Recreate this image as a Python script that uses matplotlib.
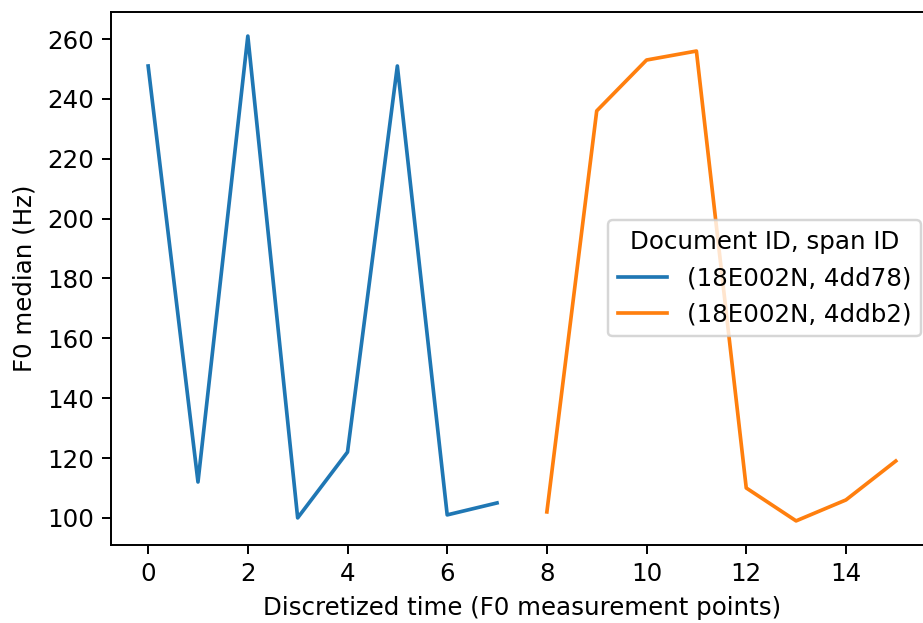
import matplotlib
matplotlib.use("Agg")
import matplotlib.pyplot as plt

# F0 medians per discretized time point
t_a = [0, 1, 2, 3, 4, 5, 6, 7]
f0_a = [251, 112, 261, 100, 122, 251, 101, 105]
t_b = [8, 9, 10, 11, 12, 13, 14, 15]
f0_b = [102, 236, 253, 256, 110, 99, 106, 119]
labels = ["(18E002N, 4dd78)", "(18E002N, 4ddb2)"]

dpi = 176
fig = plt.figure(figsize=(923 / dpi, 623 / dpi), dpi=dpi)
ax = fig.add_axes([0.120, 0.125, 0.891, 0.856])

ax.plot(t_a, f0_a, label=labels[0])
ax.plot(t_b, f0_b, label=labels[1])

ax.set_xticks(range(0, 16, 2))
ax.set_yticks(range(100, 261, 20))
ax.set_xlabel("Discretized time (F0 measurement points)")
ax.set_ylabel("F0 median (Hz)")
ax.legend(title="Document ID, span ID", loc="center right")

fig.savefig("out.png", dpi=dpi)
